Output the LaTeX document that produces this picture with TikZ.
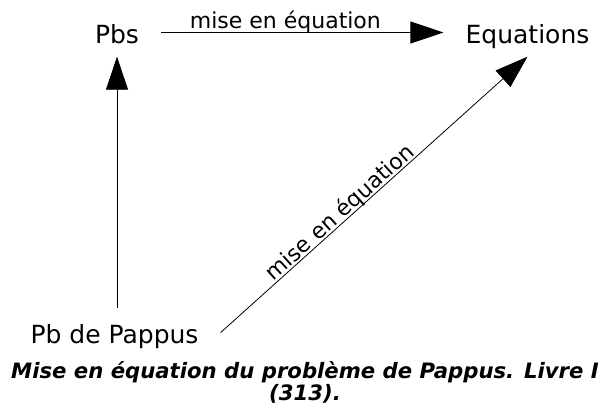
\documentclass[tikz,border=0pt]{standalone}
\usepackage{fontspec}
\setmainfont{DejaVu Sans}
\usetikzlibrary{arrows.meta}
\begin{document}
\begin{tikzpicture}[x=1pt,y=-1pt,
  term/.style={font=\fontsize{25}{30}\selectfont, text height=22pt, text depth=1pt, inner xsep=22pt, inner ysep=12.5pt, anchor=base},
  arr/.style={line width=0.8pt, -{Triangle[length=33pt,width=22pt]}},
  lab/.style={font=\fontsize{22}{26}\selectfont, text depth=0pt, anchor=south, inner xsep=0pt},
  caption/.style={font=\fontsize{21.2}{22}\selectfont\bfseries\itshape, align=center, inner sep=0pt}]
\useasboundingbox (0,0) rectangle (605,408);
\node[term] (pbs) at (117,43) {Pbs};
\node[term] (eq) at (527.5,43) {Equations};
\node[term] (pap) at (114.5,343) {Pb de Pappus};
\draw[arr] (pbs) -- (eq) node[lab, pos=0.44, inner ysep=3.5pt] {mise en équation};
\draw[arr] (pbs.south |- pap.north) -- (pbs.south);
\draw[arr] (pap.east) -- (eq.south) node[lab, pos=0.41, sloped, inner ysep=2pt] {mise en équation};
\node[caption, anchor=north] (cap) at (305,361) {Mise en équation du problème de Pappus. Livre I\\(313).};
\end{tikzpicture}
\end{document}
